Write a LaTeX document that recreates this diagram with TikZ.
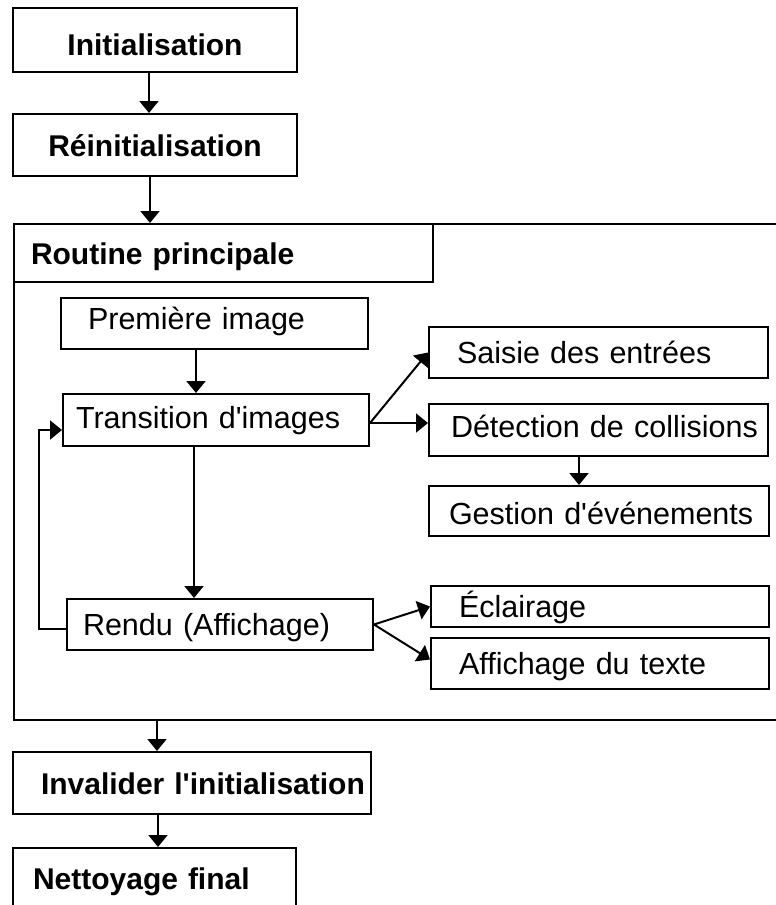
\documentclass[tikz,border=0pt]{standalone}
\usepackage{fontspec}
\setmainfont{Liberation Sans}
\usetikzlibrary{arrows.meta}
\begin{document}
\begin{tikzpicture}[x=1pt,y=-1pt]
\tikzset{
  box/.style={draw, line width=2pt, anchor=north west, inner ysep=0pt,
              text height=22pt, text depth=0pt, align=left},
  bold/.style={font=\fontsize{30}{36}\selectfont\bfseries},
  plain/.style={font=\fontsize{30.5}{36}\selectfont},
  arr/.style={line width=2pt, -{Triangle[length=12pt,width=19pt]}},
}
\useasboundingbox (0,0) rectangle (776,905);
\clip (0,0) rectangle (776,905);
\fill[white] (0,0) rectangle (776,905);

% top of the sequence
\node[box, bold, align=center, text width=244pt, inner xsep=20pt, minimum height=64pt, text height=31pt] (init) at (12,7) {Initialisation};
\node[box, bold, align=center, text width=244pt, inner xsep=20pt, minimum height=62pt] (reinit) at (12,113) {Réinitialisation};

% main loop frame and its title
\node[draw, line width=2pt, anchor=north west, inner sep=0pt, minimum width=800pt, minimum height=496pt] (main) at (13,223) {};
\node[box, bold, text width=385pt, inner xsep=17pt, minimum height=58pt] (head) at (13,223) {Routine principale};

% steps inside the loop
\node[box, plain, text width=253pt, inner xsep=27pt, minimum height=51pt, text depth=10pt] (first) at (60,297) {\mbox{Première image}};
\node[box, plain, text width=280pt, inner xsep=13pt, minimum height=52pt, text depth=5pt] (trans) at (62,393) {\mbox{Transition d\textquotesingle images}};
\node[box, plain, text width=274pt, inner xsep=16pt, minimum height=51pt] (render) at (66,598) {\mbox{Rendu (Affichage)}};

\node[box, plain, text width=283pt, inner xsep=28pt, minimum height=51pt] (input) at (428,326) {\mbox{Saisie des entrées}};
\node[box, plain, text width=295pt, inner xsep=22pt, minimum height=52pt, text depth=8pt] (coll) at (428,403) {\mbox{Détection de collisions}};
\node[box, plain, text width=300pt, inner xsep=20pt, minimum height=50pt, text height=27pt] (events) at (428,485) {\mbox{Gestion d\textquotesingle événements}};
\node[box, plain, text width=282pt, inner xsep=28pt, minimum height=41pt] (light) at (430,585) {\mbox{Éclairage}};
\node[box, plain, text width=282pt, inner xsep=28pt, minimum height=51pt] (txt) at (430,637) {\mbox{Affichage du texte}};

% end of the sequence
\node[box, bold, text width=302pt, inner xsep=28pt, minimum height=62pt] (inval) at (12,751) {\mbox{Invalider l\textquotesingle initialisation}};
\node[box, bold, text width=243pt, inner xsep=20pt, minimum height=60pt] (clean) at (12,847) {\mbox{Nettoyage final}};

% connectors
\draw[arr] ([xshift=-6pt]init.south) -- ([xshift=-6pt]init.south |- reinit.north);
\draw[arr] ([xshift=-5pt]reinit.south) -- ([xshift=-5pt]reinit.south |- head.north);
\draw[arr] ([xshift=-18.5pt]first.south) -- ([xshift=-18.5pt]first.south |- trans.north);
\draw[arr] ([xshift=-22pt]trans.south) -- ([xshift=-22pt]trans.south |- render.north);
\draw[arr] ([yshift=-4pt]render.west) -- ++(-27pt,0) |- ([yshift=-10pt]trans.west);
\draw[arr] ([yshift=-3pt]trans.east) -- (input.west);
\draw[arr] ([yshift=-3pt]trans.east) -- ([yshift=-3pt]trans.east -| coll.west);
\draw[arr] ([xshift=-19.5pt]coll.south) -- ([xshift=-19.5pt]coll.south |- events.north);
\draw[arr] (render.east) -- (light.west);
\draw[arr] (render.east) -- ([yshift=4pt]txt.west);
\draw[arr] ([xshift=-35pt]inval.north |- main.south) -- ([xshift=-35pt]inval.north);
\draw[arr] ([xshift=-34pt]inval.south) -- ([xshift=-34pt]inval.south |- clean.north);
\end{tikzpicture}
\end{document}
